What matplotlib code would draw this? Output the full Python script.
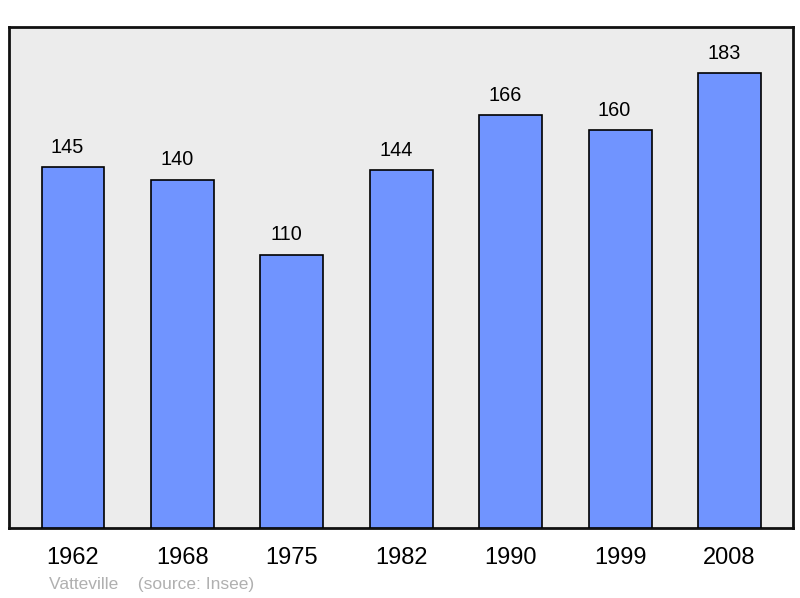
import matplotlib
matplotlib.use("Agg")
import matplotlib.pyplot as plt

years = ["1962", "1968", "1975", "1982", "1990", "1999", "2008"]
population = [145, 140, 110, 144, 166, 160, 183]

plt.rcParams['font.family'] = ['Liberation Sans', 'DejaVu Sans']

fig = plt.figure(figsize=(8, 5.98), dpi=100)
ax = fig.add_axes([9/800, 1-528/598, 784/800, 501/598])
ax.set_facecolor('#ececec')
x = list(range(len(years)))
ax.bar(x, population, width=0.575, color='#7094ff', edgecolor='black', linewidth=1.2, zorder=3)
for xi, v in zip(x, population):
    ax.annotate(str(v), (xi, v), xytext=(-4, 7.5), textcoords='offset points',
                ha='center', va='bottom', fontsize=14.3)
ax.set_xlim(-0.585, 6.58)
ax.set_ylim(0, 201.5)
ax.set_yticks([])
ax.set_xticks(x)
ax.set_xticklabels(years, fontsize=17)
ax.tick_params(axis='x', length=0, pad=13.5)
for s in ax.spines.values():
    s.set_linewidth(2)
    s.set_color('#111111')
fig.text(49/800, 1-584/598, "Vatteville    (source: Insee)", color='#b0b0b0',
         fontsize=12.5, va='center', ha='left')
fig.savefig("out.png", dpi=100)
